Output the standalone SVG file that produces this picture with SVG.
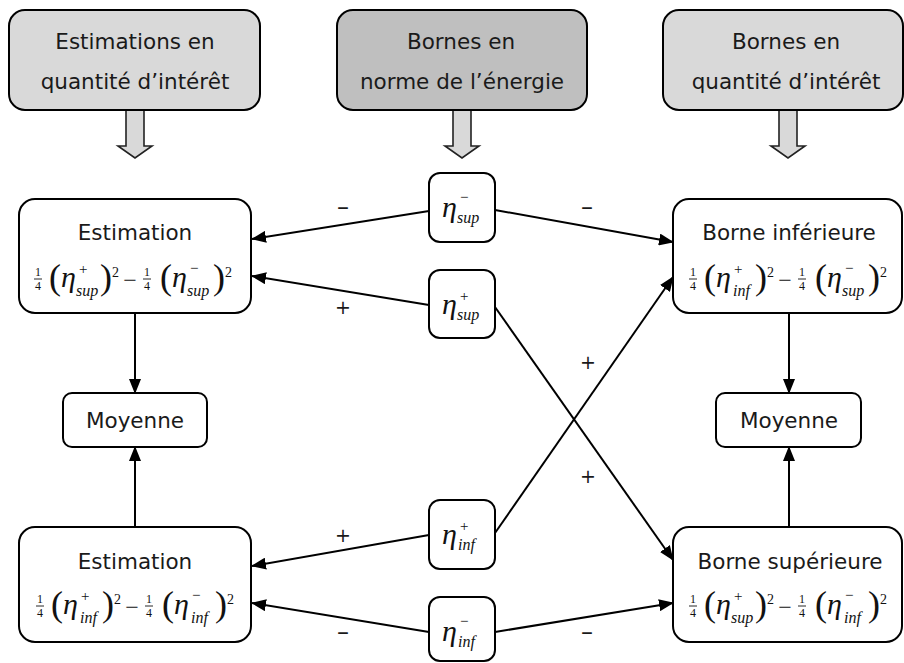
<svg xmlns="http://www.w3.org/2000/svg" width="904" height="663" viewBox="0 0 904 663">
<style>
  .box{fill:#ffffff;stroke:#000;stroke-width:2}
  .top1{fill:#d9d9d9;stroke:#000;stroke-width:2}
  .top2{fill:#bfbfbf;stroke:#000;stroke-width:2}
  .barrow{fill:#d9d9d9;stroke:#222;stroke-width:1.6;stroke-linejoin:miter}
  .lbl{font-family:"DejaVu Sans",Verdana,sans-serif;font-size:21.5px;fill:#1a1a1a;text-anchor:middle}
  .sign{font-family:"DejaVu Sans",Verdana,sans-serif;font-size:19px;fill:#1a1a1a;text-anchor:middle}
  .dash{font-family:"DejaVu Sans",Verdana,sans-serif;font-size:24px;fill:#1a1a1a;text-anchor:middle}
  .conn line{stroke:#000;stroke-width:2;marker-end:url(#ah)}
  .fr,.par,.eta,.sp,.sb,.ex,.mn{font-family:"Liberation Serif","Times New Roman",serif;fill:#111}
  .fr{font-size:12px;text-anchor:middle}
  .bar{stroke:#111;stroke-width:0.9}
  .par{font-size:36px}
  .eta{font-size:30px;font-style:italic}
  .sp{font-size:15px}
  .sb{font-size:16px;font-style:italic}
  .ex{font-size:14px}
  .mn{font-size:24px;text-anchor:middle}
</style>
<defs>
  <marker id="ah" markerWidth="15" markerHeight="12" refX="14" refY="6" orient="auto" markerUnits="userSpaceOnUse">
    <path d="M0,0 L15,6 L0,12 Z" fill="#000"/>
  </marker>
</defs>

<!-- block arrows -->
<g id="block-arrows">
  <path class="barrow" d="M126,110 L126,146 L118,146 L135,158 L152,146 L144,146 L144,110 Z"/>
  <path class="barrow" d="M453,110 L453,146 L445,146 L462,158 L479,146 L471,146 L471,110 Z"/>
  <path class="barrow" d="M779,110 L779,146 L771,146 L788,158 L805,146 L797,146 L797,110 Z"/>
</g>

<!-- top boxes -->
<g id="top-estimations">
  <rect class="top1" x="9" y="10" width="251" height="100" rx="16"/>
  <text class="lbl" x="135" y="49">Estimations en</text>
  <text class="lbl" x="135" y="89">quantité d’intérêt</text>
</g>
<g id="top-energie">
  <rect class="top2" x="337" y="10" width="250" height="100" rx="16"/>
  <text class="lbl" x="461" y="49">Bornes en</text>
  <text class="lbl" x="462" y="89">norme de l’énergie</text>
</g>
<g id="top-bornes">
  <rect class="top1" x="663" y="10" width="240" height="100" rx="16"/>
  <text class="lbl" x="786" y="49">Bornes en</text>
  <text class="lbl" x="786" y="89">quantité d’intérêt</text>
</g>

<!-- connectors -->
<g id="connectors" class="conn">
  <line x1="429" y1="211" x2="252" y2="239"/>
  <line x1="495" y1="210" x2="673" y2="242"/>
  <line x1="429" y1="305" x2="252" y2="276"/>
  <line x1="495" y1="307" x2="673" y2="560"/>
  <line x1="429" y1="535" x2="252" y2="566"/>
  <line x1="495" y1="533" x2="673" y2="277"/>
  <line x1="429" y1="632" x2="252" y2="603"/>
  <line x1="495" y1="632" x2="673" y2="603"/>
  <line x1="135" y1="313" x2="135" y2="393"/>
  <line x1="135" y1="527" x2="135" y2="447"/>
  <line x1="789" y1="313" x2="789" y2="393"/>
  <line x1="789" y1="527" x2="789" y2="447"/>
</g>

<g id="signs">
  <text class="dash" x="343" y="215">–</text>
  <text class="dash" x="587" y="215">–</text>
  <text class="sign" x="343" y="314">+</text>
  <text class="sign" x="588" y="369">+</text>
  <text class="sign" x="588" y="483">+</text>
  <text class="sign" x="343" y="542">+</text>
  <text class="dash" x="343" y="640">–</text>
  <text class="dash" x="587" y="640">–</text>
</g>

<!-- eta boxes -->
<g id="eta-sup-minus">
  <rect class="box" x="429" y="173" width="66" height="69" rx="11"/>
  <text class="eta" x="442" y="217">η</text>
  <text class="sp" x="460" y="202">−</text>
  <text class="sb" x="457" y="223">sup</text>
</g>
<g id="eta-sup-plus">
  <rect class="box" x="429" y="270" width="66" height="68" rx="11"/>
  <text class="eta" x="442" y="314">η</text>
  <text class="sp" x="460" y="301">+</text>
  <text class="sb" x="457" y="320">sup</text>
</g>
<g id="eta-inf-plus">
  <rect class="box" x="429" y="500" width="66" height="69" rx="11"/>
  <text class="eta" x="442" y="544">η</text>
  <text class="sp" x="460" y="531">+</text>
  <text class="sb" x="458" y="550">inf</text>
</g>
<g id="eta-inf-minus">
  <rect class="box" x="429" y="597" width="66" height="64" rx="11"/>
  <text class="eta" x="442" y="641">η</text>
  <text class="sp" x="460" y="626">−</text>
  <text class="sb" x="458" y="647">inf</text>
</g>

<!-- big boxes -->
<g id="estimation-sup">
  <rect class="box" x="19" y="199" width="232" height="114" rx="16"/>
  <text class="lbl" x="135" y="240">Estimation</text>
  <g transform="translate(33,287)">
    <text class="fr" x="5" y="-11">1</text><line class="bar" x1="1" y1="-8" x2="9" y2="-8"/><text class="fr" x="5" y="3">4</text>
    <text class="par" x="16" y="2">(</text>
    <text class="eta" x="28" y="0">η</text>
    <text class="sp" x="46" y="-13">+</text>
    <text class="sb" x="43" y="9">sup</text>
    <text class="par" x="67" y="2">)</text>
    <text class="ex" x="79" y="-10">2</text>
    <text class="mn" x="97" y="1">−</text>
    <text class="fr" x="114" y="-11">1</text><line class="bar" x1="110" y1="-8" x2="118" y2="-8"/><text class="fr" x="114" y="3">4</text>
    <text class="par" x="127" y="2">(</text>
    <text class="eta" x="139" y="0">η</text>
    <text class="sp" x="157" y="-14">−</text>
    <text class="sb" x="154" y="9">sup</text>
    <text class="par" x="180" y="2">)</text>
    <text class="ex" x="192" y="-10">2</text>
  </g>
</g>

<g id="borne-inf">
  <rect class="box" x="673" y="199" width="229" height="114" rx="16"/>
  <text class="lbl" x="789" y="240">Borne inférieure</text>
  <g transform="translate(688,287)">
    <text class="fr" x="5" y="-11">1</text><line class="bar" x1="1" y1="-8" x2="9" y2="-8"/><text class="fr" x="5" y="3">4</text>
    <text class="par" x="16" y="2">(</text>
    <text class="eta" x="28" y="0">η</text>
    <text class="sp" x="46" y="-13">+</text>
    <text class="sb" x="45" y="9">inf</text>
    <text class="par" x="67" y="2">)</text>
    <text class="ex" x="79" y="-10">2</text>
    <text class="mn" x="97" y="1">−</text>
    <text class="fr" x="114" y="-11">1</text><line class="bar" x1="110" y1="-8" x2="118" y2="-8"/><text class="fr" x="114" y="3">4</text>
    <text class="par" x="127" y="2">(</text>
    <text class="eta" x="139" y="0">η</text>
    <text class="sp" x="157" y="-14">−</text>
    <text class="sb" x="154" y="9">sup</text>
    <text class="par" x="180" y="2">)</text>
    <text class="ex" x="192" y="-10">2</text>
  </g>
</g>

<g id="moyenne-left">
  <rect class="box" x="63" y="393" width="144" height="54" rx="9"/>
  <text class="lbl" x="135" y="428">Moyenne</text>
</g>
<g id="moyenne-right">
  <rect class="box" x="716" y="393" width="145" height="54" rx="9"/>
  <text class="lbl" x="789" y="428">Moyenne</text>
</g>

<g id="estimation-inf">
  <rect class="box" x="19" y="527" width="232" height="115" rx="16"/>
  <text class="lbl" x="135" y="569">Estimation</text>
  <g transform="translate(35,614)">
    <text class="fr" x="5" y="-11">1</text><line class="bar" x1="1" y1="-8" x2="9" y2="-8"/><text class="fr" x="5" y="3">4</text>
    <text class="par" x="16" y="2">(</text>
    <text class="eta" x="28" y="0">η</text>
    <text class="sp" x="46" y="-13">+</text>
    <text class="sb" x="45" y="9">inf</text>
    <text class="par" x="67" y="2">)</text>
    <text class="ex" x="79" y="-10">2</text>
    <text class="mn" x="97" y="1">−</text>
    <text class="fr" x="114" y="-11">1</text><line class="bar" x1="110" y1="-8" x2="118" y2="-8"/><text class="fr" x="114" y="3">4</text>
    <text class="par" x="127" y="2">(</text>
    <text class="eta" x="139" y="0">η</text>
    <text class="sp" x="157" y="-14">−</text>
    <text class="sb" x="156" y="9">inf</text>
    <text class="par" x="180" y="2">)</text>
    <text class="ex" x="192" y="-10">2</text>
  </g>
</g>

<g id="borne-sup">
  <rect class="box" x="673" y="527" width="229" height="115" rx="16"/>
  <text class="lbl" x="790" y="569">Borne supérieure</text>
  <g transform="translate(688,614)">
    <text class="fr" x="5" y="-11">1</text><line class="bar" x1="1" y1="-8" x2="9" y2="-8"/><text class="fr" x="5" y="3">4</text>
    <text class="par" x="16" y="2">(</text>
    <text class="eta" x="28" y="0">η</text>
    <text class="sp" x="46" y="-13">+</text>
    <text class="sb" x="43" y="9">sup</text>
    <text class="par" x="67" y="2">)</text>
    <text class="ex" x="79" y="-10">2</text>
    <text class="mn" x="97" y="1">−</text>
    <text class="fr" x="114" y="-11">1</text><line class="bar" x1="110" y1="-8" x2="118" y2="-8"/><text class="fr" x="114" y="3">4</text>
    <text class="par" x="127" y="2">(</text>
    <text class="eta" x="139" y="0">η</text>
    <text class="sp" x="157" y="-14">−</text>
    <text class="sb" x="156" y="9">inf</text>
    <text class="par" x="180" y="2">)</text>
    <text class="ex" x="192" y="-10">2</text>
  </g>
</g>
</svg>
